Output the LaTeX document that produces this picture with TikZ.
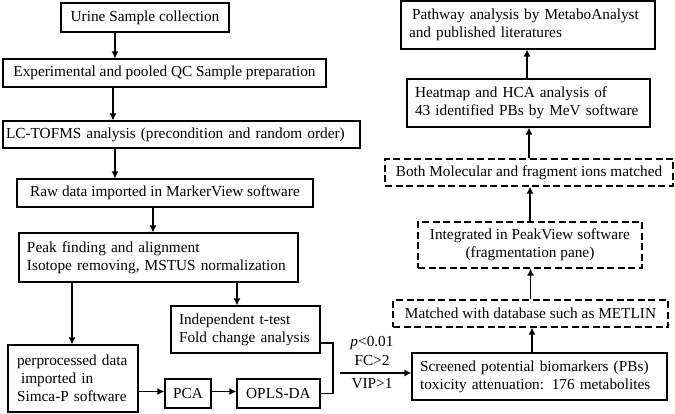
\documentclass[tikz,border=0pt]{standalone}
\usepackage{fontspec}
\setmainfont{Liberation Serif}
\usetikzlibrary{arrows.meta}
\newcommand{\fnt}{\fontsize{15.3}{18.2}\selectfont}
\tikzset{
  box/.style={draw, line width=1.1pt, font=\fnt, inner sep=0pt, align=center},
  lbox/.style={box, align=left, inner xsep=8pt},
  dbox/.style={box, dash pattern=on 7pt off 3.5pt},
  arr/.style={line width=1.9pt, -{Latex[length=7pt,width=7pt]}},
  lbl/.style={font=\fnt, inner sep=0pt}
}
\begin{document}
\begin{tikzpicture}[x=1pt,y=-1pt]
\useasboundingbox (0,0) rectangle (675,414);
% left column
\node[box, minimum width=168pt, minimum height=29pt] (b1) at (145,17.5) {Urine Sample collection};
\node[box, minimum width=323pt, minimum height=28pt] (b2) at (164.5,73) {Experimental and pooled QC Sample preparation};
\node[lbox, inner xsep=3pt, text width=351pt, minimum height=27pt] (b3) at (181.5,134.5) {LC-TOFMS analysis (precondition and random order)};
\node[box, minimum width=296pt, minimum height=28pt] (b4) at (165,193) {Raw data imported in MarkerView software};
\node[lbox, text width=263pt, minimum height=49pt] (b5) at (158.5,257.5) {Peak finding and alignment\\Isotope removing, MSTUS normalization};
\node[lbox, text width=133pt, minimum height=47pt] (b6) at (245.5,329.5) {Independent t-test\\Fold change analysis};
\node[lbox, inner xsep=9pt, text width=112pt, minimum height=67pt] (b7) at (73,378.5) {perprocessed data\\\hspace*{4pt}imported in\\Simca-P software};
\node[box, minimum width=46pt, minimum height=29pt] (pca) at (188,393.5) {PCA};
\node[box, minimum width=83pt, minimum height=29pt] (opls) at (278.5,393.5) {OPLS-DA};
% right column
\node[lbox, text width=239pt, minimum height=47pt] (scr) at (539.5,376.5) {Screened potential biomarkers (PBs)\\toxicity attenuation: 176 metabolites};
\node[dbox, minimum width=275pt, minimum height=27pt] (mat) at (530.5,313.5) {Matched with database such as METLIN};
\node[dbox, minimum width=224pt, minimum height=46pt] (int) at (530,245) {Integrated in PeakView software\\(fragmentation pane)};
\node[dbox, minimum width=288pt, minimum height=27pt] (both) at (529,172.5) {Both Molecular and fragment ions matched};
\node[lbox, text width=227pt, minimum height=48pt] (heat) at (528.5,103) {Heatmap and HCA analysis of\\43 identified PBs by MeV software};
\node[lbox, text width=238pt, minimum height=48pt] (path) at (528,25) {\hspace*{3pt}Pathway analysis by MetaboAnalyst\\and published literatures};
% labels
\node[lbl] (l1) at (372,343) {\textit{p}<0.01};
\node[lbl] (l2) at (372,361) {FC>2};
\node[lbl] (l3) at (372,384) {VIP>1};
% connectors
\draw[arr] ([xshift=-30pt]b1.south) -- ([xshift=-30pt]b1.south |- b2.north);
\draw[arr] ([xshift=-51.5pt]b2.south) -- ([xshift=-51.5pt]b2.south |- b3.north);
\draw[arr] ([xshift=-66.5pt]b3.south) -- ([xshift=-66.5pt]b3.south |- b4.north);
\draw[arr] ([xshift=-12pt]b4.south) -- ([xshift=-12pt]b4.south |- b5.north);
\draw[arr] ([xshift=78.5pt]b5.south) -- ([xshift=78.5pt]b5.south |- b6.north);
\draw[arr] ([xshift=-86.5pt]b5.south) -- ([xshift=-86.5pt]b5.south |- b7.north);
\draw[arr] ([yshift=2pt]b7.east |- pca.west) -- ([yshift=2pt]pca.west);
\draw[arr] ([yshift=2pt]pca.east) -- ([yshift=2pt]opls.west);
\draw[line width=1.9pt] ([yshift=-13.5pt]b6.east) -- ++(12,0) |- (opls.east);
\coordinate (fs) at (340,373);
\draw[arr] (fs) -- (fs -| scr.west);
\draw[arr] ([xshift=-7.5pt]scr.north) -- ([xshift=-7.5pt]scr.north |- mat.south);
\draw[arr] (mat.north) -- (mat.north |- int.south);
\draw[arr] (int.north) -- (int.north |- both.south);
\draw[arr] (both.north) -- (both.north |- heat.south);
\draw[arr] ([xshift=-1.5pt]heat.north) -- ([xshift=-1.5pt]heat.north |- path.south);
\end{tikzpicture}
\end{document}
